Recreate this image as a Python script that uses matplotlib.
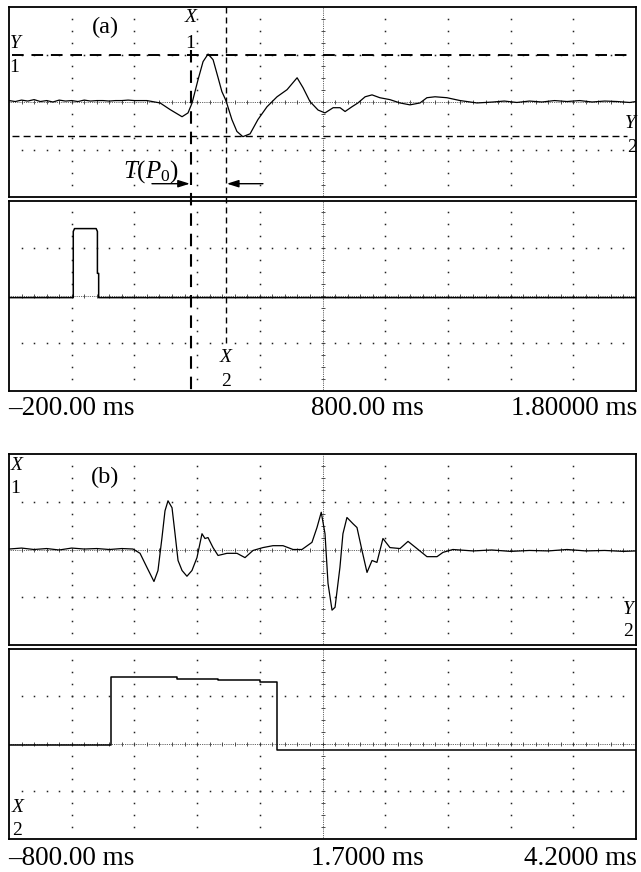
import numpy as np
import matplotlib
matplotlib.use("Agg")
import matplotlib.pyplot as plt
from matplotlib.lines import Line2D
from matplotlib.transforms import blended_transform_factory

plt.rcParams['font.family'] = ['Liberation Serif', 'DejaVu Serif']
plt.rcParams['mathtext.fontset'] = 'custom'
plt.rcParams['mathtext.rm'] = 'Liberation Serif'
plt.rcParams['mathtext.it'] = 'Liberation Serif:italic'

# ---- data (time in ms, amplitude in screen divisions) ----
range_a = (-200.0, 1800.0)
range_b = (-800.0, 4200.0)
labels_a = ["\u2013200.00 ms", "800.00 ms", "1.80000 ms"]
labels_b = ["\u2013800.00 ms", "1.7000 ms", "4.2000 ms"]

t_a = [-200, -180, -160, -140, -120, -100, -80, -60, -40, -20, 0, 20, 40, 60,
       80, 100, 120, 140, 160, 180, 200, 220, 240, 282, 314, 352, 371, 384,
       403, 419, 435, 451, 467, 479, 492, 511, 527, 546, 569, 594, 623, 655,
       687, 719, 738, 760, 786, 808, 834, 856, 872, 894, 913, 936, 958, 983,
       1015, 1047, 1079, 1111, 1133, 1159, 1197, 1239, 1293, 1344, 1380, 1420,
       1460, 1500, 1540, 1580, 1620, 1660, 1700, 1740, 1780, 1800]
v_a = [0.03, 0.01, 0.04, 0.02, 0.05, 0.01, 0.03, 0.0, 0.04, 0.02, 0.03, 0.01,
       0.04, 0.02, 0.03, 0.03, 0.02, 0.03, 0.03, 0.04, 0.03, 0.03, 0.03, -0.02,
       -0.16, -0.31, -0.23, -0.02, 0.47, 0.85, 1.01, 0.89, 0.51, 0.22, 0.03,
       -0.37, -0.62, -0.73, -0.67, -0.37, -0.10, 0.11, 0.26, 0.51, 0.30, 0.01,
       -0.17, -0.23, -0.12, -0.12, -0.20, -0.10, -0.02, 0.11, 0.15, 0.09, 0.05,
       -0.02, -0.06, -0.02, 0.09, 0.11, 0.09, 0.03, -0.02, 0.0, 0.02, -0.01,
       0.02, 0.0, 0.03, 0.01, 0.03, 0.0, 0.02, 0.01, -0.01, 0.01]

t_pulse_a = [-200, 5, 5, 9, 78, 82, 82, 86, 86, 1800]
v_pulse_a = [-0.04, -0.04, 1.35, 1.41, 1.41, 1.35, 0.47, 0.47, -0.04, -0.04]

t_b = [-800, -700, -600, -500, -400, -300, -200, -100, 0, 100, 189, 245, 300,
       356, 388, 420, 444, 468, 500, 524, 548, 580, 619, 659, 699, 739, 763,
       787, 827, 867, 938, 1018, 1082, 1146, 1225, 1305, 1385, 1465, 1536,
       1616, 1656, 1690, 1720, 1744, 1776, 1800, 1839, 1863, 1895, 1943, 1975,
       2015, 2055, 2095, 2134, 2182, 2238, 2318, 2382, 2453, 2533, 2613, 2661,
       2740, 2900, 3050, 3200, 3350, 3500, 3650, 3800, 3950, 4100, 4200]
v_b = [0.01, 0.03, 0.0, 0.02, -0.01, 0.03, 0.01, 0.02, 0.0, 0.02, 0.01, -0.08,
       -0.375, -0.67, -0.44, 0.25, 0.81, 1.02, 0.875, 0.33, -0.23, -0.44,
       -0.56, -0.44, -0.17, 0.33, 0.23, 0.25, 0.04, -0.125, -0.08, -0.08,
       -0.17, -0.02, 0.04, 0.08, 0.08, 0.0, 0.0, 0.15, 0.46, 0.78, 0.33,
       -0.71, -1.27, -1.21, -0.375, 0.33, 0.67, 0.54, 0.46, -0.02, -0.48,
       -0.23, -0.27, 0.23, 0.04, 0.02, 0.17, 0.02, -0.15, -0.15, -0.06, 0.0,
       -0.03, -0.01, -0.04, -0.02, -0.03, 0.0, -0.03, -0.02, -0.04, -0.03]

t_pulse_b = [-800, 13, 13, 540, 540, 867, 867, 1201, 1201, 1337, 1337, 4200]
v_pulse_b = [-0.03, -0.03, 1.40, 1.40, 1.37, 1.37, 1.34, 1.34, 1.29, 1.29,
             -0.135, -0.135]

x1_cursor, x2_cursor = 380.0, 492.0
y1_cursor, y2_cursor = 0.99, -0.71

W, H = 641, 872
fig = plt.figure(figsize=(W / 100, H / 100), dpi=100)


def box(x0, y0, x1, y1):
    return [x0 / W, 1 - y1 / H, (x1 - x0) / W, (y1 - y0) / H]


def ftext(x, y, s, size=14, **kw):
    kw.setdefault('ha', 'center')
    kw.setdefault('va', 'center')
    fig.text(x / W, 1 - y / H, s, fontsize=size, **kw)


def scope_axes(rect, xr):
    ax = fig.add_axes(rect)
    ax.set_xlim(*xr)
    ax.set_ylim(-2, 2)
    ax.set_xticks([])
    ax.set_yticks([])
    for s in ax.spines.values():
        s.set_linewidth(1.3)
    xmaj = np.linspace(xr[0], xr[1], 11)
    xmin = np.linspace(xr[0], xr[1], 51)
    ymin = np.linspace(-2, 2, 17)
    xc = xmaj[5]
    dot = dict(ls='none', marker='s', ms=1.1, color='#222', mew=0)
    for yv in (-1, 1):
        ax.plot(xmin[1:-1], np.full(49, yv), **dot)
    for xv in xmaj[1:-1]:
        if xv != xc:
            ax.plot(np.full(15, xv), ymin[1:-1], **dot)
    ax.axhline(0, ls=(0, (1, 1.2)), lw=0.6, color='#333')
    ax.axvline(xc, ls=(0, (1, 1.2)), lw=0.6, color='#333')
    ax.plot(xmin[1:-1], np.zeros(49), ls='none', marker='|', ms=3, mew=0.6,
            color='#333')
    ax.plot(np.full(15, xc), ymin[1:-1], ls='none', marker='_', ms=3,
            mew=0.6, color='#333')
    return ax


# panel (a)
ax_au = scope_axes(box(9, 7, 636, 197), range_a)
ax_al = scope_axes(box(9, 200.5, 636, 391), range_a)
ax_au.plot(t_a, v_a, color='k', lw=0.9)
ax_al.plot(t_pulse_a, v_pulse_a, color='k', lw=1.1)

ax_au.axhline(y1_cursor, xmin=0.005, xmax=0.995, color='k', lw=1.4,
              ls=(0, (6, 4)))
ax_au.axhline(y2_cursor, xmin=0.005, xmax=0.985, color='k', lw=1.0,
              ls=(0, (5, 3)))
tr = blended_transform_factory(ax_au.transData, fig.transFigure)
fig.add_artist(Line2D([x1_cursor, x1_cursor], [1 - 50 / H, 1 - 394 / H],
                      transform=tr, color='k', lw=1.5, ls=(0, (6, 3.8))))
fig.add_artist(Line2D([x2_cursor, x2_cursor], [1 - 7 / H, 1 - 347 / H],
                      transform=tr, color='k', lw=1.0, ls=(0, (4.3, 2.9))))

arrow = dict(arrowstyle='-|>,head_length=0.7,head_width=0.22', lw=1.0,
             color='k', shrinkA=0, shrinkB=0)
ax_au.annotate('', xy=(x1_cursor - 3, -1.72), xytext=(256, -1.72),
               arrowprops=arrow)
ax_au.annotate('', xy=(x2_cursor + 3, -1.72), xytext=(610, -1.72),
               arrowprops=arrow)

ftext(105, 27, '(a)', size=17.5)
ftext(191, 18, 'X', size=14, style='italic')
ftext(190, 43, '1', size=14)
ftext(15, 43, 'Y', size=14, style='italic')
ftext(14, 67, '1', size=14)
ftext(630, 123, 'Y', size=14, style='italic')
ftext(632, 147, '2', size=14)
ftext(226, 357, 'X', size=14, style='italic')
ftext(226, 381, '2', size=14)
ftext(123, 178, r'$T(P_0)$', size=18, ha='left', va='baseline')

ftext(8, 408, labels_a[0], size=19.5, ha='left')
ftext(311, 408, labels_a[1], size=19.5, ha='left')
ftext(637, 408, labels_a[2], size=19.5, ha='right')

# panel (b)
ax_bu = scope_axes(box(9, 454, 636, 645), range_b)
ax_bl = scope_axes(box(9, 648.5, 636, 839), range_b)
ax_bu.plot(t_b, v_b, color='k', lw=0.9)
ax_bl.plot(t_pulse_b, v_pulse_b, color='k', lw=1.1)

ftext(105, 477, '(b)', size=17.5)
ftext(17, 465, 'X', size=14, style='italic')
ftext(15, 488, '1', size=14)
ftext(628, 610, 'Y', size=14, style='italic')
ftext(628, 632, '2', size=14)
ftext(18, 807, 'X', size=14, style='italic')
ftext(17, 830, '2', size=14)

ftext(8, 858, labels_b[0], size=19.5, ha='left')
ftext(311, 858, labels_b[1], size=19.5, ha='left')
ftext(637, 858, labels_b[2], size=19.5, ha='right')

fig.savefig('out.png', dpi=100)
